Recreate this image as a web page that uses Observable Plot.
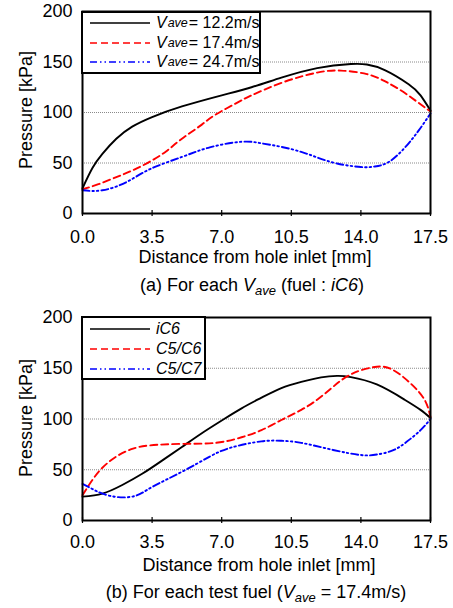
<!DOCTYPE html>
<html><head><meta charset="utf-8">
<script src="https://cdn.jsdelivr.net/npm/d3@7"></script>
<script src="https://cdn.jsdelivr.net/npm/@observablehq/plot@0.6"></script>
<style>
body{margin:0;background:#fff;}
#root{position:relative;width:453px;height:608px;background:#fff;font-family:"Liberation Sans",Arial,sans-serif;color:#000;overflow:hidden}
.ttl{position:absolute;font-size:18px;white-space:nowrap;transform:translate(-50%,-50%);}
.ytl{position:absolute;font-size:18px;white-space:nowrap;transform:translate(-50%,-50%) rotate(-90deg);}
.leg{position:absolute;border:2px solid #000;background:#fff;box-sizing:border-box}
.row{position:absolute;left:0;height:20px;display:flex;align-items:center;font-size:16px;white-space:nowrap}
sub{font-size:13px;vertical-align:-4px;line-height:0}
.row sub{font-size:12.5px;margin-left:1px;margin-right:1px}
i{font-style:italic}
</style></head>
<body><div id="root"></div>
<script>
// ---------- data ----------
const xTicks = [0, 3.5, 7, 10.5, 14, 17.5];
const yTicks = [0, 50, 100, 150, 200];
const gridVals = [50, 100, 150];

// Panel (a): fuel iC6, each Vave  -> [distance mm, pressure kPa]
const seriesA = ["12.2", "17.4", "24.7"];
const a12 = [[0,25],[0.5,45],[1,59],[1.7,74],[2.5,86],[3.5,95.5],[5,106],[7,117],[8.5,125],[10,134.5],[11.8,144],[13.5,148],[14.3,147.5],[15.2,142],[16.4,128],[17,117],[17.5,102]];
const a17 = [[0,24],[0.8,29],[1.7,36],[2.5,42.5],[3.4,51.5],[4.2,61.5],[5,74],[6,88],[6.7,98],[7.9,111],[8.5,117],[10.1,130],[11.8,139.5],[13,141.5],[14.3,138],[15.2,131],[16,122],[16.8,111],[17.5,101]];
const a24 = [[0,23],[1,23],[2.2,31],[3.4,44],[5,56],[6.4,65.5],[8,71],[9,69.5],[10,66],[11,61],[11.8,55.5],[12.8,49.5],[14,46],[14.7,46.5],[15.4,51],[16.2,65],[16.9,82],[17.5,99]];

// Panel (b): Vave = 17.4 m/s, each test fuel
const seriesB = ["iC6", "C5/C6", "C5/C7"];
const bIC6 = [[0,23.5],[1,26.5],[2,35],[3,46],[4,59],[5,72.5],[6,86],[7,98.5],[8,110.5],[9,121],[10,130.5],[11,136.5],[12,141],[12.8,142.5],[13.5,141.3],[14.8,134],[16.2,119],[17,109],[17.5,101]];
const bC56 = [[0,25],[0.5,40],[1,52],[1.7,63],[2.5,70.5],[3.4,74],[5,75.5],[6.7,76.5],[8,82],[9,89],[10,99],[11,109],[11.8,119],[12.5,130],[13,138],[13.5,144],[14,148],[14.8,151.5],[15.6,148.5],[16.5,135],[17.2,119],[17.5,102]];
const bC57 = [[0,36],[0.5,31],[1,26.5],[1.8,23],[2.7,24.5],[3.5,33],[5,48],[6.4,63],[7.5,72],[9,78],[10,78.5],[11,76.5],[12.6,69.5],[14,64.5],[14.8,65],[15.6,69],[16.3,77.5],[17,89],[17.5,100]];

const styles = [
  {stroke: "#000000", dash: null},
  {stroke: "#ff0000", dash: "7,4"},
  {stroke: "#0000ff", dash: "7,3,1.5,3,1.5,3"}
];

const root = document.getElementById("root");

function panel(seriesData, top, marginTop, plotBottom, pad) {
  const marks = [
    Plot.gridY(gridVals, {stroke: "#8a8a8a", strokeOpacity: 1, strokeDasharray: "1,1"}),
    Plot.axisY({ticks: yTicks, tickSize: 0, tickPadding: 10, label: null}),
    Plot.axisX({ticks: xTicks, tickSize: 0, tickPadding: pad, tickFormat: d => d.toFixed(1), label: null}),
    Plot.axisX({ticks: xTicks, tickSize: 6, dy: -3, tickFormat: () => "", label: null, strokeWidth: 1.2}),
  ];
  seriesData.forEach((s, i) => {
    marks.push(Plot.line(s, {x: d => d[0], y: d => d[1], stroke: styles[i].stroke,
      strokeDasharray: styles[i].dash, strokeWidth: 1.9, curve: "natural"}));
  });
  marks.push(Plot.frame({stroke: "#000", strokeWidth: 2}));
  const svg = Plot.plot({
    width: 453, height: plotBottom + 35,
    marginLeft: 82, marginRight: 23, marginTop: marginTop, marginBottom: 35,
    x: {domain: [0, 17.5]},
    y: {domain: [0, 200]},
    style: {fontSize: "18px", fontFamily: "'Liberation Sans', Arial, sans-serif", color: "#000", background: "transparent"},
    marks
  });
  svg.style.position = "absolute";
  svg.style.left = "0px";
  svg.style.top = top + "px";
  root.appendChild(svg);
}

panel([a12, a17, a24], 0, 11, 213, 17);
panel([bIC6, bC56, bC57], 300, 17, 220, 15);

function el(html, cls, css) {
  const d = document.createElement("div");
  d.className = cls; d.innerHTML = html;
  Object.assign(d.style, css);
  root.appendChild(d);
  return d;
}
// axis titles
el("Distance from hole inlet [mm]", "ttl", {left: "255px", top: "257px"});
el("Distance from hole inlet [mm]", "ttl", {left: "259px", top: "565px"});
el("Pressure [kPa]", "ytl", {left: "26px", top: "110px"});
el("Pressure [kPa]", "ytl", {left: "26px", top: "418px"});
// captions
el("(a) For each <i>V</i><sub><i>ave</i></sub> (fuel : <i>iC6</i>)", "ttl", {left: "252px", top: "285px"});
el("(b) For each test fuel (<i>V</i><sub><i>ave</i></sub> = 17.4m/s)", "ttl", {left: "256px", top: "592px"});

// legends
function sample(i) {
  const s = styles[i];
  return `<svg width="60" height="6" style="margin-left:7px;margin-right:6px"><line x1="0" y1="3" x2="60" y2="3" stroke="${s.stroke}" stroke-width="1.5" ${s.dash ? `stroke-dasharray="${s.dash}"` : ""}/></svg>`;
}
function legend(labels, css, rowTops) {
  const box = el("", "leg", css);
  labels.forEach((lab, i) => {
    const r = document.createElement("div");
    r.className = "row";
    r.style.top = rowTops[i] + "px";
    r.innerHTML = sample(i) + lab;
    box.appendChild(r);
  });
}
legend(seriesA.map(v => `<i>V</i><sub><i>ave</i></sub>= ${v}m/s`),
  {left: "81px", top: "11px", width: "180px", height: "63px"}, [0, 20, 39]);
legend(seriesB.map(v => `<i>${v}</i>`),
  {left: "81px", top: "316px", width: "125px", height: "64px"}, [1, 21, 41]);
</script></body></html>
